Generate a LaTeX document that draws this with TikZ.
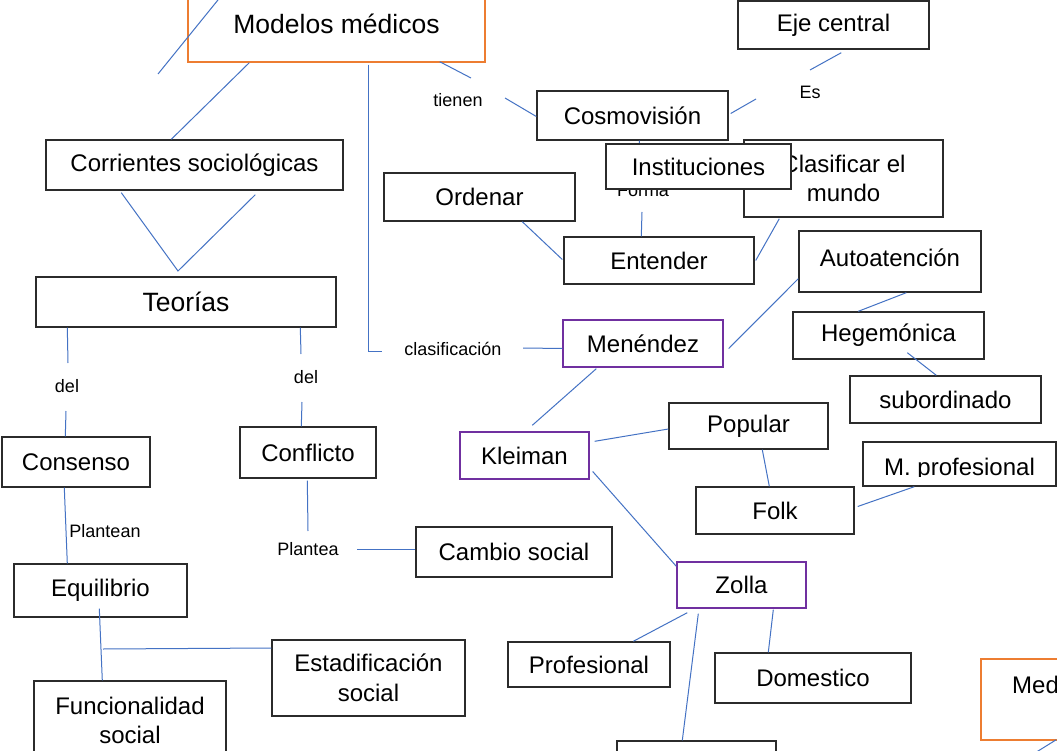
\documentclass[tikz,border=0pt]{standalone}
\usepackage{fontspec}
\setmainfont{Liberation Sans}
\usetikzlibrary{calc}
\definecolor{conncol}{HTML}{4472C4}
\definecolor{boxcol}{HTML}{2B2B2B}
\definecolor{orangecol}{HTML}{ED7D31}
\definecolor{purplecol}{HTML}{7030A0}
\tikzset{
 conn/.style={draw=conncol, line width=1pt},
 cbox/.style={draw=boxcol, line width=1.4pt, fill=white, inner sep=0pt, align=center, font=\fontsize{24}{29.5}\selectfont},
 bigbox/.style={cbox, font=\fontsize{26.5}{31}\selectfont},
 obox/.style={cbox, draw=orangecol},
 pbox/.style={cbox, draw=purplecol},
 lbl/.style={inner sep=0pt, font=\fontsize{18}{21}\selectfont},
}
\begin{document}
\begin{tikzpicture}[x=1pt,y=-1pt]
\useasboundingbox (0,0) rectangle (1057,751);
\fill[white] (0,0) rectangle (1057,751);
\clip (0,0) rectangle (1057,751);

% boxes
\node[obox, font=\fontsize{26.5}{31}\selectfont, minimum width=297, minimum height=76] (modelos) at (336.5,24) {Modelos médicos};
\node[cbox, minimum width=191, minimum height=48] (eje) at (833.5,25) {Eje central};
\node[cbox, minimum width=191, minimum height=49] (cosmo) at (632.5,115.5) {Cosmovisión};
\node[cbox, minimum width=297, minimum height=50] (corrientes) at (194.5,165) {Corrientes sociológicas};
\node[cbox, minimum width=191, minimum height=48] (ordenar) at (479.5,197) {Ordenar};
\node[cbox, minimum width=199, minimum height=77] (clasificar) at (843.5,178.5) {Clasificar el\\mundo};
\node[lbl] (forma) at (643,190) {Forma};
\node[cbox, minimum width=190, minimum height=47] (entender) at (659,260.5) {Entender};
\node[cbox, minimum width=182, minimum height=61, text depth=8pt] (autoaten) at (890,261.5) {Autoatención};
\node[bigbox, minimum width=300, minimum height=50] (teorias) at (186,302) {Teorías};
\node[pbox, minimum width=160, minimum height=47] (menendez) at (643,343.5) {Menéndez};
\node[cbox, minimum width=191, minimum height=47] (hegemonica) at (888.5,335.5) {Hegemónica};
\node[cbox, minimum width=191, minimum height=47] (subordinado) at (945.5,399.5) {subordinado};
\node[pbox, minimum width=129, minimum height=47] (kleiman) at (524.5,455.5) {Kleiman};
\node[cbox, minimum width=159, minimum height=46] (popular) at (748.5,426) {Popular};
\node[cbox, minimum width=193, minimum height=44] (mprof) at (959.5,464) {};
\begin{scope}
\clip (863,442) rectangle (1056,476);
\node[inner sep=0pt, anchor=base, font=\fontsize{24}{29.5}\selectfont] (mproftext) at (959.5,475.5) {M. profesional};
\end{scope}
\node[cbox, minimum width=148, minimum height=50] (consenso) at (76,462) {Consenso};
\node[cbox, minimum width=136, minimum height=51] (conflicto) at (308,452.5) {Conflicto};
\node[cbox, minimum width=158, minimum height=47] (folk) at (775,510.5) {Folk};
\node[cbox, minimum width=196, minimum height=50] (cambio) at (514,552) {Cambio social};
\node[cbox, minimum width=173, minimum height=53] (equilibrio) at (100.5,590.5) {Equilibrio};
\node[pbox, minimum width=129, minimum height=46] (zolla) at (741.5,585) {Zolla};
\node[cbox, minimum width=193, minimum height=76] (estad) at (368.5,678) {Estadificación\\social};
\node[cbox, minimum width=162, minimum height=45] (profesional) at (589,664.5) {Profesional};
\node[cbox, minimum width=196, minimum height=50] (domestico) at (813,678) {Domestico};
\node[cbox, minimum width=192, minimum height=79] (funcional) at (130,720.5) {Funcionalidad\\social};
\node[cbox, minimum width=159, minimum height=49] (bottombox) at (696.5,765.5) {};
\node[obox, minimum width=160, minimum height=81] (med) at (1061,699.5) {};
\node[inner sep=0pt, anchor=west, font=\fontsize{24}{29.5}\selectfont] (medtext) at (1012,685) {Med};

% labels
\node[lbl] (tienen) at (458,100) {tienen};
\node[lbl] (es) at (810,92) {Es};
\node[lbl] (clasif) at (453,349) {clasificación};
\node[lbl] (del1) at (67,386) {del};
\node[lbl] (del2) at (306,377) {del};
\node[lbl] (plantean) at (105,531) {Plantean};
\node[lbl] (plantea) at (308,549) {Plantea};

% free-end coordinates
\coordinate (f1) at (158,74);
\coordinate (f2) at (222,-5);
\coordinate (t1) at (471,78);
\coordinate (t2) at (505,98);
\coordinate (cl1) at (382,351);
\coordinate (cl2) at (523,348);
\coordinate (e2) at (810,70);
\coordinate (e3) at (756,99);
\coordinate (fo1) at (640,160);
\coordinate (fo2) at (642,212);
\coordinate (tj) at (178,271);
\coordinate (d1) at (68,363);
\coordinate (d2) at (66,411);
\coordinate (d3) at (301,354);
\coordinate (d4) at (302,402);
\coordinate (p1) at (308,531);
\coordinate (p2) at (357,549);
\coordinate (q2) at (103,649);
\coordinate (m1) at (1030,756);

% connectors
\draw[conn] (f1) -- (f2);
\draw[conn] ($(modelos.south west)+(62,0)$) -- ($(corrientes.north west)+(126,0)$);
\draw[conn] ($(modelos.south east)+(-46,-1)$) -- (t1);
\draw[conn] (t2) -- ($(cosmo.west)+(0,1)$);
\draw[conn] ($(modelos.south west)+(181,2)$) |- (cl1);
\draw[conn] (cl2) -- ($(menendez.west)+(0,5)$);
\draw[conn] ($(eje.south west)+(104,3)$) -- (e2);
\draw[conn] (e3) -- ($(cosmo.east)+(2,-2)$);
\draw[conn] ($(cosmo.south west)+(103,0)$) -- (fo1);
\draw[conn] (fo2) -- ($(entender.north west)+(78,0)$);
\draw[conn] ($(ordenar.south west)+(139,0)$) -- ($(entender.west)+(-1,-1)$);
\draw[conn] ($(clasificar.south west)+(36,1)$) -- ($(entender.east)+(1,0)$);
\draw[conn] ($(corrientes.south west)+(76,2)$) -- (tj) -- ($(corrientes.south west)+(210,4)$);
\draw[conn] ($(teorias.south west)+(32,0)$) -- (d1);
\draw[conn] (d2) -- ($(consenso.north west)+(64,0)$);
\draw[conn] ($(teorias.south west)+(265,0)$) -- (d3);
\draw[conn] (d4) -- ($(conflicto.north west)+(62,0)$);
\draw[conn] ($(conflicto.south west)+(68,2)$) -- (p1);
\draw[conn] (p2) -- ($(cambio.west)+(0,-3)$);
\draw[conn] ($(consenso.south west)+(63,0)$) -- ($(equilibrio.north west)+(54,0)$);
\draw[conn] ($(equilibrio.south west)+(86,-9)$) -- ($(funcional.north west)+(69,0)$);
\draw[conn] (q2) -- ($(estad.west)+(0,-30)$);
\draw[conn] ($(menendez.east)+(5,5)$) -- ($(autoaten.south west)+(0,-14)$);
\draw[conn] ($(autoaten.south west)+(108,0)$) -- ($(hegemonica.north west)+(66,0)$);
\draw[conn] ($(hegemonica.south west)+(115,-7)$) -- ($(subordinado.north west)+(87,0)$);
\draw[conn] ($(menendez.south west)+(34,1)$) -- ($(kleiman.north west)+(73,-6)$);
\draw[conn] ($(kleiman.north east)+(5,10)$) -- ($(popular.west)+(0,3)$);
\draw[conn] ($(popular.south west)+(94,0)$) -- ($(folk.north west)+(74,0)$);
\draw[conn] ($(folk.east)+(3,-4)$) -- ($(mprof.south west)+(52,0)$);
\draw[conn] ($(kleiman.east)+(3,16)$) -- ($(zolla.north west)+(0,5)$);
\draw[conn] ($(zolla.south west)+(11,4)$) -- ($(profesional.north west)+(126,0)$);
\draw[conn] ($(zolla.south west)+(22,5)$) -- ($(bottombox.north west)+(66,0)$);
\draw[conn] ($(zolla.south west)+(97,1)$) -- ($(domestico.north west)+(54,0)$);
\draw[conn] ($(med.south west)+(76,-1)$) -- (m1);

% box drawn on top of Clasificar and Forma
\node[cbox, minimum width=185, minimum height=45] (instituciones) at (698.5,166.5) {Instituciones};
\end{tikzpicture}
\end{document}
